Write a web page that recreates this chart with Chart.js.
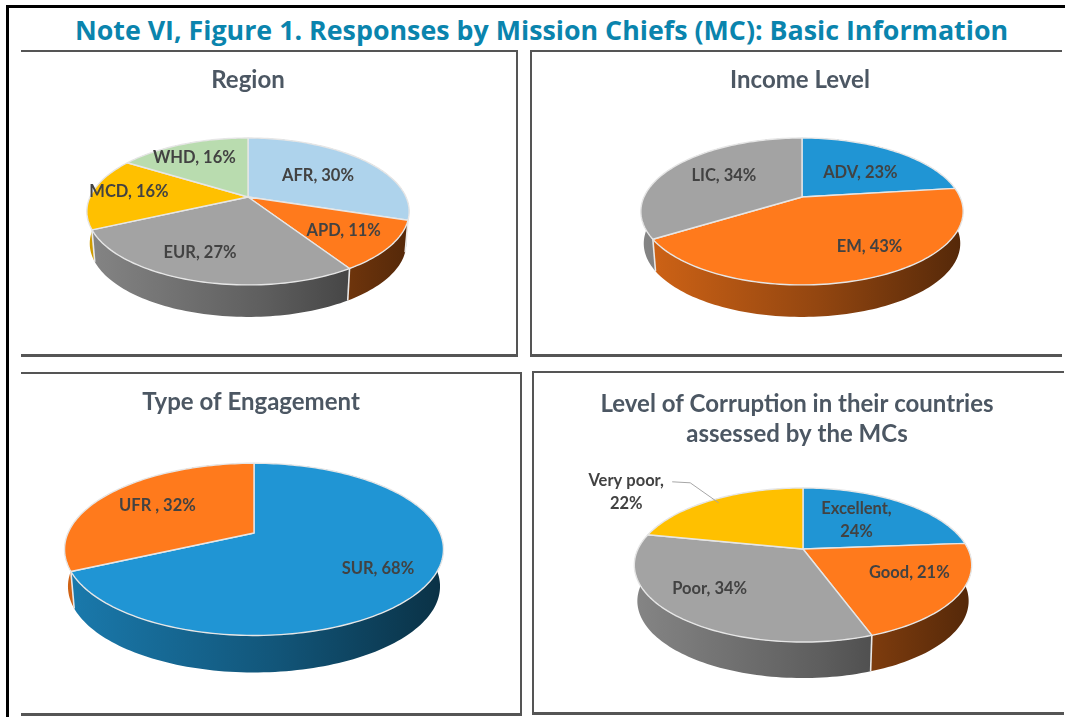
<!DOCTYPE html>
<html><head><meta charset="utf-8">
<script src="https://cdn.jsdelivr.net/npm/chart.js@4"></script>
<style>
html,body{margin:0;padding:0;background:#fff;width:1065px;height:717px;overflow:hidden}
#outerT{position:absolute;left:6px;top:5px;width:1059px;height:3px;background:#000}
#outerL{position:absolute;left:6px;top:5px;width:2.5px;height:712px;background:#000}
#fig{position:absolute;left:0;width:1083px;top:11px;text-align:center;font:700 26.8px "Open Sans",sans-serif;color:#0a84ad;line-height:38px;white-space:nowrap}
.ln{position:absolute;background:#555}
canvas{position:absolute;filter:blur(.7px)}
</style></head><body>
<div id="outerT"></div><div id="outerL"></div>
<div id="fig">Note VI, Figure 1. Responses by Mission Chiefs (MC): Basic Information</div>
<div class="ln" style="left:21px;top:50px;width:497px;height:2px"></div>
<div class="ln" style="left:516px;top:50px;width:2px;height:306px"></div>
<div class="ln" style="left:21px;top:354px;width:497px;height:3px"></div>
<div class="ln" style="left:530px;top:50px;width:532px;height:2px"></div>
<div class="ln" style="left:530px;top:50px;width:2px;height:306px"></div>
<div class="ln" style="left:530px;top:354px;width:532px;height:3px"></div>
<div class="ln" style="left:21px;top:372px;width:501px;height:2px"></div>
<div class="ln" style="left:520px;top:372px;width:2px;height:342px"></div>
<div class="ln" style="left:21px;top:713px;width:501px;height:3px"></div>
<div class="ln" style="left:532px;top:371px;width:532px;height:2px"></div>
<div class="ln" style="left:532px;top:371px;width:2px;height:343px"></div>
<div class="ln" style="left:532px;top:712px;width:532px;height:3px"></div>
<canvas id="c1" style="left:25px;top:55px" width="446" height="298"></canvas>
<canvas id="c2" style="left:535px;top:55px" width="530" height="298"></canvas>
<canvas id="c3" style="left:25px;top:376px" width="452" height="336"></canvas>
<canvas id="c4" style="left:535px;top:376px" width="524" height="335"></canvas>
<script>
const regionLabels = ["AFR","APD","EUR","MCD","WHD"];
const regionValues = [30,11,27,16,16];
const incomeLabels = ["ADV","EM","LIC"];
const incomeValues = [23,43,34];
const engagementLabels = ["SUR","UFR "];
const engagementValues = [68,32];
const corruptionLabels = ["Excellent","Good","Poor","Very poor"];
const corruptionValues = [24,21,34,22];

const BLUE="#2095d4",ORANGE="#ff7a1c",GRAY="#a3a3a3",YELLOW="#ffc000";

function shade(hex,f){const n=parseInt(hex.slice(1),16);return `rgb(${(n>>16)*f|0},${((n>>8)&255)*f|0},${(n&255)*f|0})`;}

const pie3d={id:'pie3d',beforeDatasetsDraw(chart,args,o){
  const ctx=chart.ctx,arcs=chart.getDatasetMeta(0).data,ds=chart.data.datasets[0];
  const ox=o.apex[0]-o.canvasLeft,oy=o.apex[1]-o.canvasTop;
  const R=arcs[0].outerRadius;
  const taper=.982;
  const P=(t,f=1)=>{const a=f*Math.cos(t),b=f*Math.sin(t),w=1-o.k*b;return [ox+R*a/w,oy+o.sy*b/w];};
  const rimW=R/Math.sqrt(1-o.k*o.k);
  const path=(s,e,dy=0,rev=false)=>{const n=Math.max(8,Math.ceil((e-s)*40));for(let i=0;i<=n;i++){const t=rev?e-(e-s)*i/n:s+(e-s)*i/n,p=P(t);
    ctx.lineTo(dy?ox+(p[0]-ox)*taper:p[0],p[1]+dy);}};
  // side wall
  arcs.forEach((arc,i)=>{
    const col=ds.backgroundColor[i],g=ctx.createLinearGradient(ox-rimW,0,ox+rimW,0);
    g.addColorStop(0,shade(col,.82));g.addColorStop(.55,shade(col,.58));g.addColorStop(1,shade(col,.33));
    ctx.beginPath();path(arc.startAngle,arc.endAngle,0);path(arc.startAngle,arc.endAngle,o.depth,true);ctx.closePath();
    ctx.fillStyle=g;ctx.fill();
  });
  arcs.forEach(arc=>{
    const t=arc.startAngle;
    if(Math.sin(t)>0.05){const p=P(t);ctx.beginPath();ctx.moveTo(p[0],p[1]);ctx.lineTo(ox+(p[0]-ox)*taper,p[1]+o.depth);ctx.strokeStyle="#e9e9e9";ctx.lineWidth=1.6;ctx.stroke();}
  });
  // top face
  arcs.forEach((arc,i)=>{
    ctx.beginPath();ctx.moveTo(ox,oy);path(arc.startAngle,arc.endAngle);ctx.closePath();
    ctx.fillStyle=ds.backgroundColor[i];ctx.fill();
    ctx.strokeStyle="#e6e6e6";ctx.lineWidth=1.4;ctx.lineJoin="round";ctx.stroke();
  });
  // data labels
  ctx.font='700 16.5px Lato, sans-serif';ctx.fillStyle="#424242";ctx.textAlign="center";ctx.textBaseline="middle";
  arcs.forEach((arc,i)=>{
    const mid=(arc.startAngle+arc.endAngle)/2,p=P(mid,.62),nudge=o.nudge[i];
    const cat=chart.data.labels[i],val=ds.data[i],x=p[0]+nudge[0],y=p[1]+nudge[1];
    if(o.twoLine&&o.twoLine.includes(i)){ctx.fillText(cat+",",x,y-11.5);ctx.fillText(val+"%",x,y+11.5);}
    else ctx.fillText(`${cat}, ${val}%`,x,y);
    if(o.leader&&o.leader[i]){const r=P(mid,.93),l=o.leader[i];ctx.beginPath();ctx.moveTo(r[0],r[1]);ctx.lineTo(x+l[0],y+l[1]);ctx.lineTo(x+l[2],y+l[3]);ctx.strokeStyle="#a6a6a6";ctx.lineWidth=1;ctx.stroke();}
  });
  return false;
}};
Chart.register(pie3d);

function build(id,labels,values,colors,title,left,top,radius,pd){
  new Chart(document.getElementById(id),{type:'pie',
    data:{labels,datasets:[{data:values,backgroundColor:colors,radius}]},
    options:{responsive:false,animation:false,events:[],
      layout:{padding:0},
      plugins:{legend:{display:false},tooltip:{enabled:false},
        title:{display:true,text:title,color:"#4c5763",font:{family:'Lato, sans-serif',size:24,weight:'700',lineHeight:1.25},padding:{top:pd.titleTop,bottom:0}},
        pie3d:Object.assign({canvasLeft:left,canvasTop:top},pd)}}});
}
build('c1',regionLabels,regionValues,["#aed3ec",ORANGE,GRAY,YELLOW,"#b9dcaf"],"Region",25,55,158,
  {titleTop:10,apex:[248,197],k:.197,sy:70.6,depth:32,nudge:[[-4,3],[12,5],[-17,8],[-22,-3],[-11,-5]]});
build('c2',incomeLabels,incomeValues,[BLUE,ORANGE,GRAY],"Income Level",535,55,158,
  {titleTop:10,apex:[802,197],k:.197,sy:70.6,depth:32,nudge:[[-1,6],[30,3],[3,-1]]});
build('c3',engagementLabels,engagementValues,[BLUE,ORANGE],"Type of Engagement",25,376,186,
  {titleTop:11,apex:[254,533],k:.19,sy:83,depth:37,nudge:[[20,6],[-5,-1]]});
build('c4',corruptionLabels,corruptionValues,[BLUE,ORANGE,GRAY,YELLOW],["Level of Corruption in their countries","assessed by the MCs"],535,376,165,
  {titleTop:13,apex:[803,549],k:.208,sy:73.7,depth:36,nudge:[[-10,2],[14,-3],[-19,1],[-118,-25]],twoLine:[0,3],leader:{3:[64,-9,46,-10]}});
</script>
</body></html>
